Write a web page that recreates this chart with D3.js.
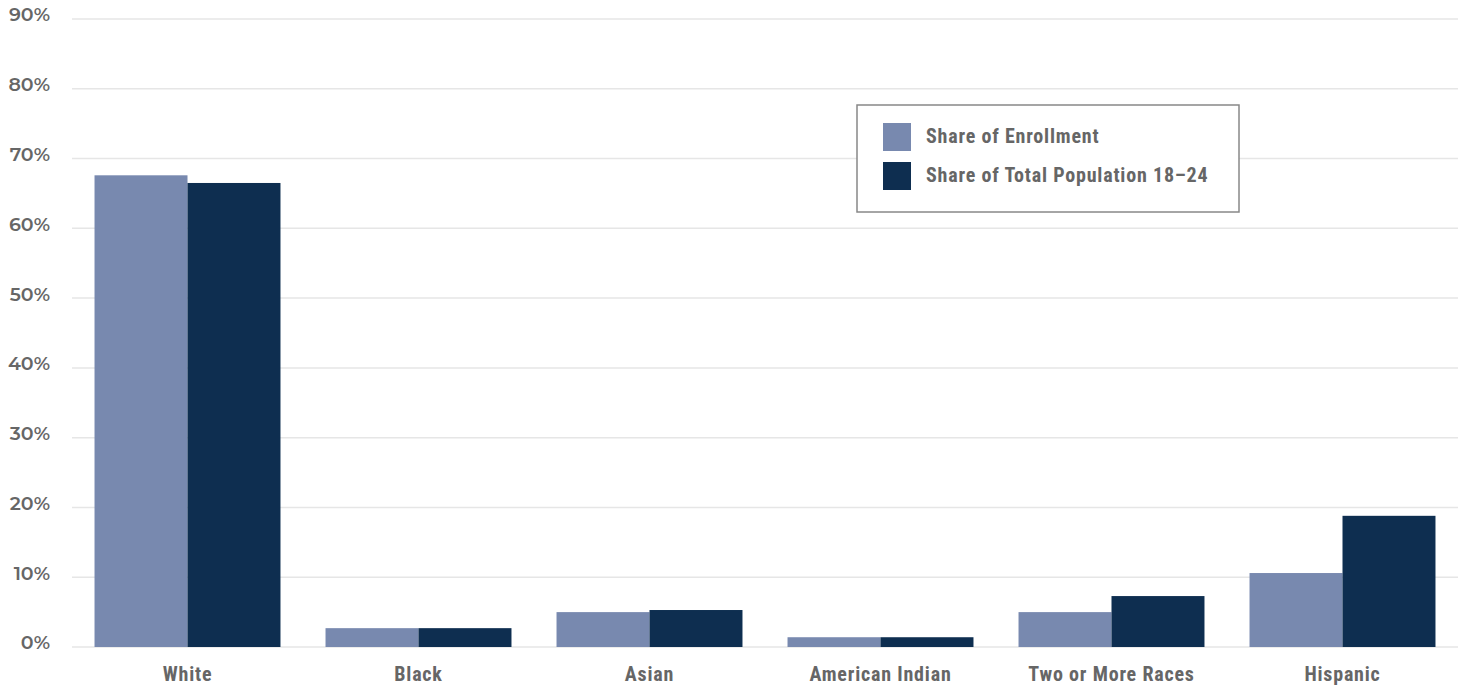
<!DOCTYPE html>
<html><head><meta charset="utf-8">
<script src="https://cdn.jsdelivr.net/npm/d3@7"></script>
<style>
body{margin:0;background:#fff;}
svg{display:block;}
</style></head>
<body>
<svg id="chart" width="1465" height="687"></svg>
<script>
const categories = ["White","Black","Asian","American Indian","Two or More Races","Hispanic"];
const seriesNames = ["Share of Enrollment","Share of Total Population 18\u201324"];
const enrollment = [67.6, 2.7, 5.0, 1.4, 5.0, 10.6];
const population = [66.5, 2.7, 5.3, 1.4, 7.3, 18.8];
const yTicks = [0,10,20,30,40,50,60,70,80,90];
const colors = ["#7889af","#0e2e50"];

const svg = d3.select("#chart");
const mLeft = 72, mRight = 1458, mTop = 19, mBottom = 647;
const x = d3.scaleBand().domain(categories).range([mLeft,mRight]).paddingInner(0.195).paddingOuter(0.0975);
const xs = d3.scaleBand().domain([0,1]).range([0,x.bandwidth()]);
const y = d3.scaleLinear().domain([0,90]).range([mBottom,mTop]);

const labelColor = "#666";
const condensed = "'Liberation Sans Narrow','Arial Narrow','Roboto Condensed',sans-serif";

// gridlines
svg.append("g").selectAll("line").data(yTicks).join("line")
  .attr("x1",mLeft).attr("x2",mRight)
  .attr("y1",d=>y(d)).attr("y2",d=>y(d))
  .attr("stroke","#e6e6e6").attr("stroke-width",1.5);

// y axis labels
const yAxis = d3.axisLeft(y).tickValues(yTicks).tickFormat(d=>d+"%").tickSize(0).tickPadding(0);
const ya = svg.append("g").attr("transform",`translate(50,0)`).call(yAxis);
ya.select(".domain").remove();
ya.selectAll("text").attr("fill",labelColor).style("font-family","'Montserrat','Lato','Open Sans',sans-serif")
  .style("font-size","19px").style("font-weight","600").attr("dy","0.1em");

// bars
const series = [enrollment, population];
series.forEach((vals,si)=>{
  svg.append("g").selectAll("rect").data(vals).join("rect")
    .attr("x",(d,i)=>x(categories[i])+xs(si))
    .attr("width",xs.bandwidth())
    .attr("y",d=>y(d))
    .attr("height",d=>y(0)-y(d))
    .attr("fill",colors[si]);
});

// x axis labels
const xAxis = d3.axisBottom(x).tickSize(0).tickPadding(0);
const xa = svg.append("g").attr("transform",`translate(0,${mBottom+20})`).call(xAxis);
xa.select(".domain").remove();
xa.selectAll("text").attr("fill",labelColor).style("font-family",condensed)
  .style("font-size","20px").style("font-weight","bold").style("letter-spacing","0.8px");

// legend
const lg = svg.append("g");
lg.append("rect").attr("x",857).attr("y",105).attr("width",382).attr("height",107)
  .attr("fill","#fff").attr("stroke","#888").attr("stroke-width",1.5);
seriesNames.forEach((n,i)=>{
  lg.append("rect").attr("x",883).attr("y",123+i*39).attr("width",28).attr("height",28).attr("fill",colors[i]);
  lg.append("text").attr("x",926).attr("y",143+i*39).text(n).attr("fill",labelColor)
    .style("font-family",condensed).style("font-size","20px").style("font-weight","bold").style("letter-spacing","0.8px");
});
</script>
</body></html>
